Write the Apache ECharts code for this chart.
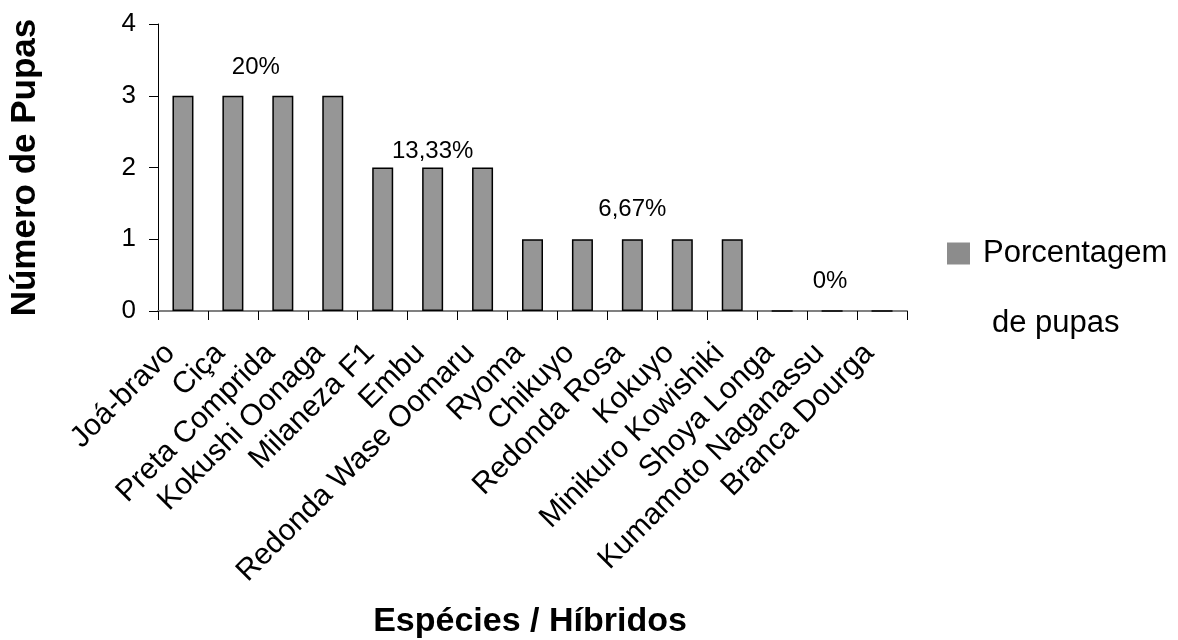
<!DOCTYPE html>
<html>
<head>
<meta charset="utf-8">
<script src="https://cdn.jsdelivr.net/npm/echarts@6/dist/echarts.min.js"></script>
<style>
  html, body { margin: 0; padding: 0; background: #fff; }
  #grafico { width: 1178px; height: 640px; }
</style>
</head>
<body>
<div id="grafico"></div>
<script>
// categorias (espécies / híbridos)
var categorias = ['Joá-bravo', 'Ciça', 'Preta Comprida', 'Kokushi Oonaga', 'Milaneza F1',
    'Embu', 'Redonda Wase Oomaru', 'Ryoma', 'Chikuyo', 'Redonda Rosa', 'Kokuyo',
    'Minikuro Kowishiki', 'Shoya Longa', 'Kumamoto Naganassu', 'Branca Dourga'];
// número de pupas por categoria
var pupas = [3, 3, 3, 3, 2, 2, 2, 1, 1, 1, 1, 1, 0, 0, 0];
// rótulos de porcentagem de cada grupo
var rotulos = ['20%', '13,33%', '6,67%', '0%'];
var rotuloCentro = [1.46, 5, 9, 12.96];     // índice da categoria (centro do grupo)
var rotuloAltura = [3.40, 2.22, 1.42, 0.41];
var yTicks = [0, 1, 2, 3, 4];

var fonte = '"Liberation Sans", Arial, sans-serif';

var grafico = echarts.init(document.getElementById('grafico'));

var option = {
    animation: false,
    textStyle: { fontFamily: fonte, color: '#000' },
    grid: { left: 158, right: 271, top: 24, bottom: 329, outerBoundsMode: 'none', containLabel: false },
    legend: {
        data: ['Porcentagem'],
        left: 947, top: 238,
        padding: 0,
        icon: 'rect',
        itemWidth: 23, itemHeight: 22,
        itemStyle: { borderWidth: 0, color: '#8c8c8c' },
        textStyle: { fontSize: 31, color: '#000', fontFamily: fonte, padding: [0, 0, 0, 8] }
    },
    xAxis: [{
        type: 'category',
        data: categorias,
        axisLine: { lineStyle: { color: '#808080', width: 2 } },
        axisTick: { show: true, length: 9, lineStyle: { color: '#000' } },
        axisLabel: {
            rotate: 45, fontSize: 30, color: '#000', margin: 25, interval: 0,
            padding: [0, 18, 0, 0]
        }
    }, {
        type: 'value', min: -0.5, max: 14.5, show: false
    }],
    yAxis: {
        type: 'value',
        min: yTicks[0], max: yTicks[yTicks.length - 1], interval: 1,
        name: 'Número de Pupas',
        nameLocation: 'middle',
        nameGap: 115,
        nameTextStyle: { fontSize: 35, fontWeight: 'bold', color: '#000' },
        axisLine: { show: true, onZero: false, lineStyle: { color: '#000' } },
        axisTick: { show: true, length: 9, lineStyle: { color: '#000' } },
        axisLabel: { fontSize: 26, color: '#000', margin: 22 },
        splitLine: { show: false }
    },
    graphic: [{
        type: 'text', x: 530, y: 605,
        style: { text: 'Espécies / Híbridos', textAlign: 'center', font: 'bold 34px ' + fonte, fill: '#000' }
    }, {
        type: 'text', left: 992, top: 308,
        style: { text: 'de pupas', font: '31px ' + fonte, fill: '#000' }
    }],
    series: [{
        name: 'Porcentagem',
        type: 'bar',
        data: pupas,
        barWidth: 21,
        itemStyle: { color: '#969696', borderColor: '#000', borderWidth: 1.5 }
    }, {
        name: 'rotulos',
        type: 'scatter',
        xAxisIndex: 1,
        symbolSize: 0,
        itemStyle: { opacity: 1 },
        data: rotulos.map(function (r, i) { return [rotuloCentro[i], rotuloAltura[i], r]; }),
        label: {
            show: true, position: 'inside', fontSize: 24, color: '#000', opacity: 1,
            formatter: function (p) { return p.data[2]; }
        },
        silent: true
    }]
};

grafico.setOption(option);
</script>
</body>
</html>
